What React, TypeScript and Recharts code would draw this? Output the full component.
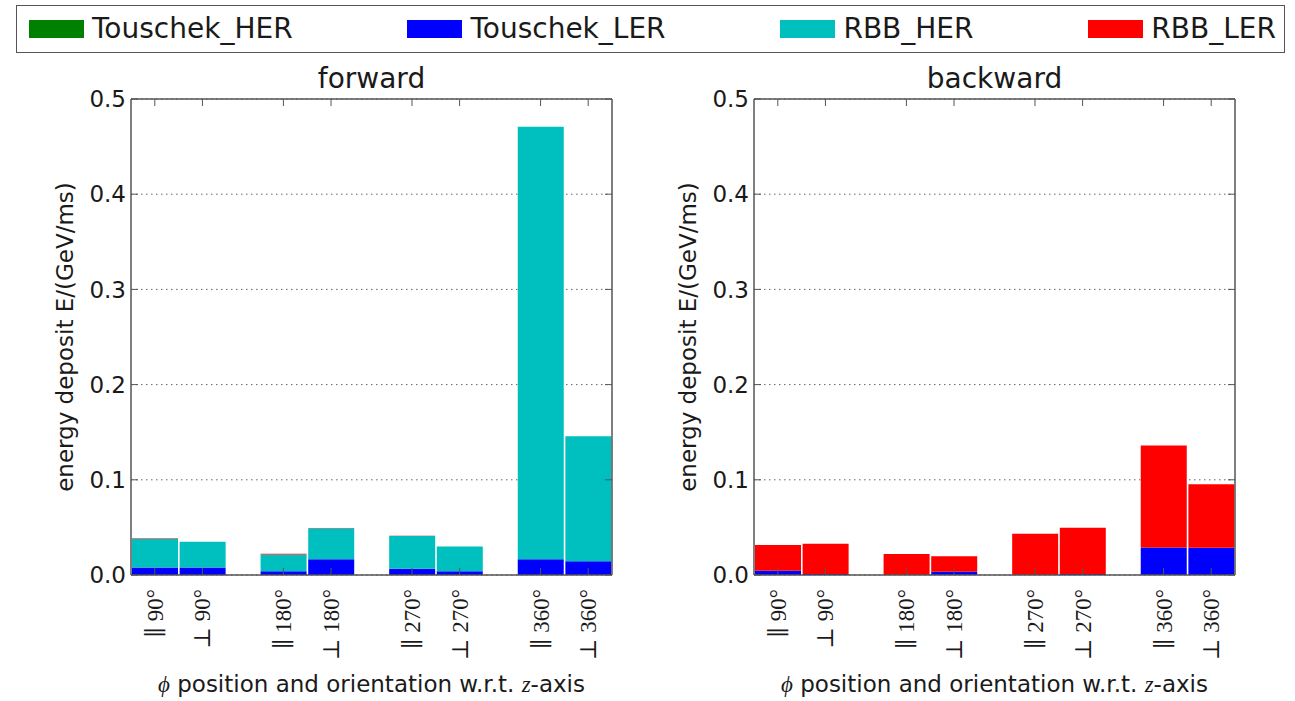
import { BarChart, Bar, XAxis, YAxis, CartesianGrid, Label } from 'recharts'

// x tick labels and where each bar sits on the x axis (pairs with a gap between)
const CATEGORIES = ['∥ 90°', '⊥ 90°', '∥ 180°', '⊥ 180°', '∥ 270°', '⊥ 270°', '∥ 360°', '⊥ 360°']
const POSITIONS = [0.5, 1.5, 3.2, 4.2, 5.9, 6.9, 8.6, 9.6]
const Y_TICKS = [0, 0.1, 0.2, 0.3, 0.4, 0.5]

// forward
const FWD_TOUSCHEK_HER = [0, 0, 0, 0, 0, 0, 0, 0]
const FWD_TOUSCHEK_LER = [0.008, 0.008, 0.004, 0.0165, 0.0066, 0.004, 0.0165, 0.0144]
const FWD_RBB_HER = [0.0300, 0.027, 0.0175, 0.0325, 0.0344, 0.026, 0.4543, 0.1313]
const FWD_RBB_LER = [0.0007, 0, 0.0007, 0.0005, 0.0002, 0, 0, 0]

// backward
const BWD_TOUSCHEK_HER = [0, 0, 0, 0, 0, 0, 0, 0]
const BWD_TOUSCHEK_LER = [0.0045, 0.001, 0, 0.0035, 0, 0.001, 0.029, 0.0286]
const BWD_RBB_HER = [0, 0, 0, 0, 0, 0, 0, 0]
const BWD_RBB_LER = [0.0269, 0.0318, 0.022, 0.0161, 0.0433, 0.0486, 0.107, 0.0668]

const SERIES = [
  { key: 'touschekHER', name: 'Touschek_HER', color: '#008000' },
  { key: 'touschekLER', name: 'Touschek_LER', color: '#0000ff' },
  { key: 'rbbHER', name: 'RBB_HER', color: '#00bfbf' },
  { key: 'rbbLER', name: 'RBB_LER', color: '#ff0000' },
]

const SANS = "'DejaVu Sans', sans-serif"
const SERIF = "'Liberation Serif', 'DejaVu Serif', serif"
const FRAME = '#555'

function buildRows(th: number[], tl: number[], rh: number[], rl: number[]) {
  return POSITIONS.map((pos, i) => ({
    pos,
    touschekHER: th[i],
    touschekLER: tl[i],
    rbbHER: rh[i],
    rbbLER: rl[i],
  }))
}

const forwardRows = buildRows(FWD_TOUSCHEK_HER, FWD_TOUSCHEK_LER, FWD_RBB_HER, FWD_RBB_LER)
const backwardRows = buildRows(BWD_TOUSCHEK_HER, BWD_TOUSCHEK_LER, BWD_RBB_HER, BWD_RBB_LER)

const TICK_GAP = 14
const TICK_LEN = 7

function XTick({ x, y, payload }: any) {
  const label = CATEGORIES[POSITIONS.indexOf(payload.value)] ?? ''
  return (
    <g>
      <line x1={x} x2={x} y1={y - TICK_GAP} y2={y - TICK_GAP - TICK_LEN} stroke={FRAME} strokeWidth={1} />
      <text
        x={x}
        y={y}
        dy="0.35em"
        textAnchor="end"
        transform={`rotate(-90, ${x}, ${y})`}
        fontFamily={SERIF}
        fontSize={23}
        fill="#1a1a1a"
      >
        {label}
      </text>
    </g>
  )
}

function TopTick({ x, y }: any) {
  return <line x1={x} x2={x} y1={y} y2={y + TICK_LEN} stroke={FRAME} strokeWidth={1} />
}

function YTick({ x, y, payload }: any) {
  return (
    <g>
      <line x1={x + 5} x2={x + 5 + TICK_LEN} y1={y} y2={y} stroke={FRAME} strokeWidth={1} />
      <text x={x} y={y} dy="0.36em" textAnchor="end" fontFamily={SANS} fontSize={23} fill="#1a1a1a">
        {Number(payload.value).toFixed(1)}
      </text>
    </g>
  )
}

function RightTick({ x, y }: any) {
  return <line x1={x} x2={x - TICK_LEN} y1={y} y2={y} stroke={FRAME} strokeWidth={1} />
}

function Panel({ title, rows, left }: { title: string; rows: any[]; left: number }) {
  return (
    <div style={{ position: 'absolute', left, top: 60 }}>
      <BarChart
        width={640}
        height={641}
        data={rows}
        margin={{ top: 38, right: 27, bottom: 0, left: 0 }}
        barSize={46}
      >
        <CartesianGrid vertical={false} stroke="#666" strokeDasharray="1.5 3.5" />
        <XAxis
          dataKey="pos"
          type="number"
          domain={[0, 10.1]}
          ticks={POSITIONS}
          interval={0}
          allowDataOverflow
          height={126}
          tickSize={0}
          tickMargin={TICK_GAP}
          tick={<XTick />}
          axisLine={{ stroke: FRAME, strokeWidth: 1.5 }}
        >
          <Label
            content={({ viewBox }: any) => (
              <text
                x={viewBox.x + viewBox.width / 2}
                y={viewBox.y + viewBox.height - 9}
                textAnchor="middle"
                fontFamily={SANS}
                fontSize={23}
                fill="#1a1a1a"
              >
                <tspan fontFamily={SERIF} fontStyle="italic">ϕ</tspan>
                {' position and orientation w.r.t. '}
                <tspan fontFamily={SERIF} fontStyle="italic">z</tspan>
                {'-axis'}
              </text>
            )}
          />
        </XAxis>
        <XAxis
          xAxisId="top"
          dataKey="pos"
          orientation="top"
          type="number"
          domain={[0, 10.1]}
          ticks={POSITIONS}
          interval={0}
          allowDataOverflow
          height={1}
          tickSize={0}
          tickMargin={0}
          tick={<TopTick />}
          axisLine={{ stroke: FRAME, strokeWidth: 1.5 }}
        >
          <Label
            content={({ viewBox }: any) => (
              <text
                x={viewBox.x + viewBox.width / 2}
                y={viewBox.y - 10}
                textAnchor="middle"
                fontFamily={SANS}
                fontSize={28}
                fill="#1a1a1a"
              >
                {title}
              </text>
            )}
          />
        </XAxis>
        <YAxis
          type="number"
          domain={[0, 0.5]}
          ticks={Y_TICKS}
          interval={0}
          width={131}
          tickSize={0}
          tickMargin={5}
          tick={<YTick />}
          axisLine={{ stroke: FRAME, strokeWidth: 1.5 }}
        >
          <Label
            content={({ viewBox }: any) => {
              const bx = viewBox.x + 73
              const cy = viewBox.y + viewBox.height / 2
              return (
                <text
                  x={bx}
                  y={cy}
                  textAnchor="middle"
                  transform={`rotate(-90, ${bx}, ${cy})`}
                  fontFamily={SANS}
                  fontSize={23}
                  fill="#1a1a1a"
                >
                  {'energy deposit  E/(GeV/ms)'}
                </text>
              )
            }}
          />
        </YAxis>
        <YAxis
          yAxisId="right"
          orientation="right"
          type="number"
          domain={[0, 0.5]}
          ticks={Y_TICKS}
          interval={0}
          allowDataOverflow
          width={1}
          tickSize={0}
          tickMargin={0}
          tick={<RightTick />}
          axisLine={{ stroke: FRAME, strokeWidth: 1.5 }}
        />
        {SERIES.map((s) => (
          <Bar
            key={s.key}
            dataKey={s.key}
            name={s.name}
            stackId="a"
            fill={s.color}
            isAnimationActive={false}
          />
        ))}
      </BarChart>
    </div>
  )
}

function LegendBox() {
  return (
    <div
      style={{
        position: 'absolute',
        left: 16,
        top: 5,
        width: 1269,
        height: 48,
        boxSizing: 'border-box',
        border: `1.5px solid ${FRAME}`,
        display: 'flex',
        alignItems: 'center',
        justifyContent: 'space-between',
        padding: '0 8px 0 12px',
        fontFamily: SANS,
        fontSize: 28,
        color: '#1a1a1a',
      }}
    >
      {SERIES.map((s) => (
        <div key={s.key} style={{ display: 'flex', alignItems: 'center', gap: 8 }}>
          <span style={{ width: 55, height: 18, background: s.color, display: 'inline-block' }} />
          <span style={{ lineHeight: '32px' }}>{s.name}</span>
        </div>
      ))}
    </div>
  )
}

export default function App() {
  return (
    <div style={{ position: 'absolute', left: 0, top: 0, width: 1295, height: 701, background: '#fff' }}>
      <LegendBox />
      <Panel title="forward" rows={forwardRows} left={0} />
      <Panel title="backward" rows={backwardRows} left={623} />
    </div>
  )
}
